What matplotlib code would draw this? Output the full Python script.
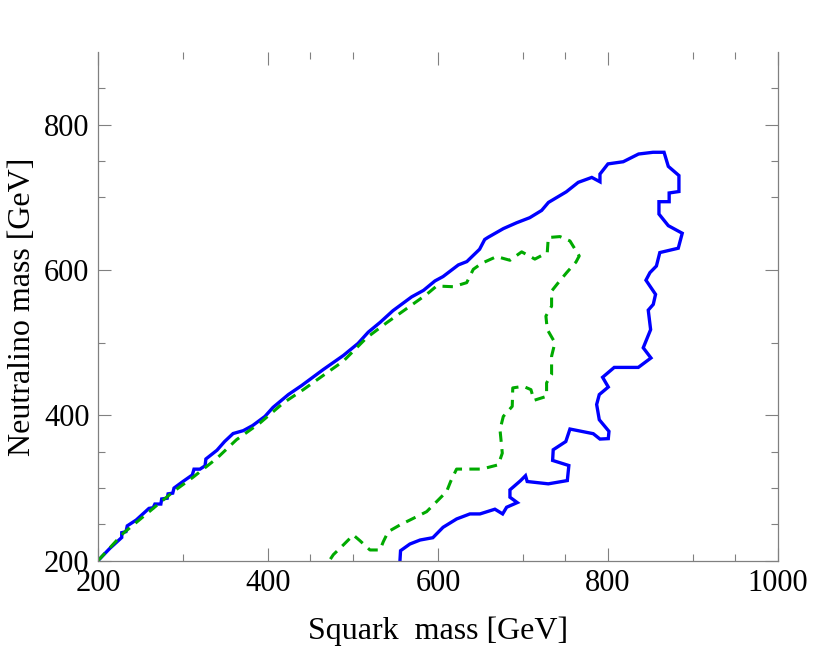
import matplotlib
matplotlib.use("Agg")
import matplotlib.pyplot as plt

# exclusion contours (squark mass, neutralino mass), GeV
blue_x = [200, 214, 228, 228, 233, 234.5, 245, 260, 265, 267, 274, 275, 281.5, 282.5,
          288, 289.5, 300, 311, 313, 320, 326, 327, 340, 349, 359, 371, 382, 396.5,
          406, 424, 439.6, 465, 488.6, 506, 518, 532, 547, 569, 583, 596.5, 606, 624,
          634, 649, 655, 659, 677, 692.5, 708, 722, 730, 751, 765, 781, 790.6, 790.6,
          800, 818, 836, 853, 866, 871, 883.5, 883.5, 872, 872, 860, 860, 871, 887.4,
          882.7, 861, 857, 849.4, 844.7, 856, 853.3, 847.4, 850.2, 841.5, 850.6, 835.7,
          807.4, 793.7, 800.4, 789.8, 786.7, 789.8, 801.2, 800.4, 790.6, 782.7, 755.3,
          750.4, 735.6, 734.9, 754, 752.2, 729.8, 705, 703, 697, 684.7, 684.7, 693.3,
          680.8, 676.1, 667, 649.4, 637.6, 622, 606, 594, 579, 567, 556, 555.3]
blue_y = [200, 217, 232, 238.6, 240, 248, 256, 272, 273, 278, 278, 285, 286, 292,
          293, 300, 309, 318, 326, 326, 330.6, 340, 352, 364, 375, 379, 386, 398.6,
          411, 428.6, 441, 463, 482.3, 499, 514.5, 528, 544, 563, 572, 585, 591, 607,
          611.6, 628.6, 642, 645, 657, 665, 672, 682, 693, 707.6, 720.6, 727.4, 721.4, 732,
          746, 749, 759.6, 762, 762, 742.6, 730, 708, 706, 694, 694, 677, 661, 650.6,
          630, 624, 605.5, 596.4, 586, 566.5, 552.7, 544.8, 518, 493, 479, 466,
          466, 452.4, 439, 428.6, 415, 394, 378, 368, 367.4, 374.8, 381.2,
          364, 352.7, 338, 331, 310.3, 305.8, 309, 317, 310, 297.5, 287.4, 280,
          273.6, 264.4, 270.9, 264.4, 264.4, 257.5, 246, 231.7, 228.5, 223, 213.8, 200]

green_x = [200, 230, 288.6, 312, 340, 363, 390.6, 418, 441.6, 461, 488.6, 516, 539.6,
           563, 586.7, 598.5, 618, 633.8, 641.6, 651.4, 669, 684.7, 698.5, 714, 728.6,
           729.8, 743.5, 755.3, 766.2, 762.4, 751.4, 741.6, 733.7, 733.7, 727, 728.6,
           737.6, 733.7, 733.7, 727.8, 727.8, 713, 709.4, 700.4, 688, 687.4, 676.9, 673,
           675.7, 671, 651.4, 621.9, 614.9, 610.2, 598.5, 586.7, 571, 555.3, 541.5,
           535.7, 531.8, 520, 508.2, 500.4, 488.6, 476.9, 472.2]
green_y = [200, 238, 295, 315, 341, 366.5, 389.5, 417, 435.4, 451.6, 474.5, 506.7, 527.4,
           546.8, 566.5, 578, 577, 582.6, 601, 609.2, 618.5, 613.4, 625, 615, 624,
           644.7, 646, 640, 619.3, 611, 596.4, 582.6, 571, 550.3, 536.6, 518.2,
           500, 481.4, 456, 444.7, 426.2, 420.7, 435.4, 440, 437.8, 412.4, 398.6, 380.3,
           348, 332, 326.1, 326.1, 309, 295.2, 281.4, 267.5, 258.3, 249.2, 240,
           226.2, 214.8, 214.8, 227.6, 235.4, 221.6, 208.3, 200]

x_major = [200, 400, 600, 800, 1000]
x_minor = [300, 450, 500, 700, 750, 900, 950]
y_major = [200, 400, 600, 800]
y_minor = [250, 300, 350, 500, 700, 750, 850]

plt.rcParams["font.family"] = ["Liberation Serif", "DejaVu Serif"]

fig = plt.figure(figsize=(8.3, 6.53), dpi=100)
ax = fig.add_axes([0.118, 0.1413, 0.8193, 0.7791])

ax.plot(blue_x, blue_y, color="#0000ff", lw=2.4, solid_joinstyle="miter")
ax.plot(green_x, green_y, color="#00aa00", lw=2.2, dashes=(3.4, 2.4))

ax.set_xlim(200, 1000)
ax.set_ylim(200, 900)
ax.set_xticks(x_major)
ax.set_xticks(x_minor, minor=True)
ax.set_yticks(y_major)
ax.set_yticks(y_minor, minor=True)

grey = "#808080"
for side in ("left", "right", "bottom"):
    ax.spines[side].set_color(grey)
    ax.spines[side].set_linewidth(0.9)
ax.spines["top"].set_visible(False)

ax.tick_params(which="both", direction="in", top=True, right=True, color=grey,
               width=0.8, labelsize=22, labelcolor="black")
ax.tick_params(which="major", length=9.5)
ax.tick_params(which="minor", length=4.8)
ax.tick_params(axis="x", which="major", pad=6)
ax.tick_params(axis="y", which="major", pad=6)

ax.set_xlabel("Squark  mass [GeV]", fontsize=23, labelpad=13)
ax.set_ylabel("Neutralino mass [GeV]", fontsize=23, labelpad=5)

fig.savefig("out.png", dpi=100)
